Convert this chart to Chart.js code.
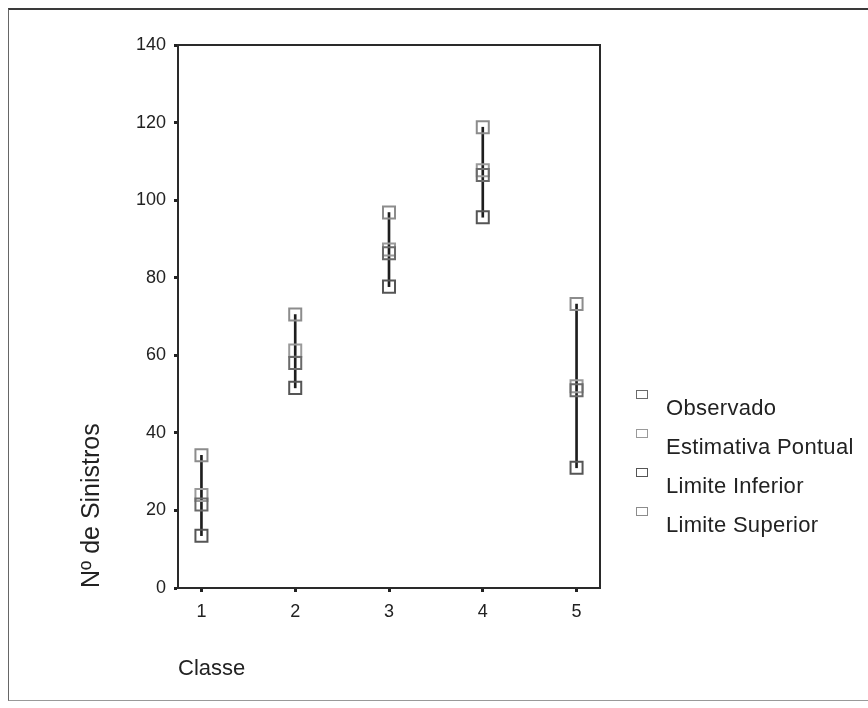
<!DOCTYPE html>
<html>
<head>
<meta charset="utf-8">
<script src="https://cdn.jsdelivr.net/npm/chart.js@4"></script>
<style>
  html, body { margin: 0; padding: 0; background: #fff; }
  #wrap { position: relative; width: 868px; height: 708px; overflow: hidden; }
  #frame {
    position: absolute; left: 8px; top: 8px; width: 900px; height: 690px;
    border-top: 2px solid #3a3a3a; border-left: 1.5px solid #666; border-bottom: 1.5px solid #999;
  }
  #chart { position: absolute; left: 0; top: 0; }
  #legend {
    position: absolute; left: 636px; top: 386px; margin: 0; padding: 0; list-style: none;
    font-family: "Liberation Sans", Arial, sans-serif; font-size: 22px; color: #222;
  }
  #legend li { height: 39px; white-space: nowrap; }
  #legend .box {
    display: inline-block; width: 10px; height: 7px; vertical-align: top; margin-top: 4px;
    border: 1.5px solid #777; background: #fff;
  }
  #legend .txt { display: inline-block; margin-left: 18px; margin-top: 9px; letter-spacing: 0.3px; }
</style>
</head>
<body>
<div id="wrap">
  <div id="frame"></div>
  <canvas id="chart" width="868" height="708"></canvas>
  <ul id="legend"></ul>
</div>
<script>
const classes = [1, 2, 3, 4, 5];
const observado = [21.5, 58, 86.3, 106.5, 51];
const estimativa = [24, 61.2, 87.3, 107.7, 52];
const limiteInferior = [13.5, 51.6, 77.7, 95.6, 31];
const limiteSuperior = [34.2, 70.5, 96.8, 118.8, 73.2];
const yTicks = [0, 20, 40, 60, 80, 100, 120, 140];

const font = '"Liberation Sans", Arial, sans-serif';

function points(values) {
  return classes.map((c, i) => ({ x: c, y: values[i] }));
}

function markerSet(label, values, color) {
  return {
    label: label,
    data: points(values),
    pointStyle: 'rect',
    pointRadius: 8.5,
    pointHoverRadius: 8.5,
    pointBorderWidth: 2,
    borderColor: color,
    backgroundColor: 'rgba(0,0,0,0)',
    showLine: false
  };
}

// legend as html list, built from the chart datasets
const htmlLegend = {
  id: 'htmlLegend',
  afterUpdate(chart) {
    const ul = document.getElementById('legend');
    ul.innerHTML = '';
    chart.data.datasets.forEach(ds => {
      if (ds.type === 'bar') return;
      const li = document.createElement('li');
      const box = document.createElement('span');
      box.className = 'box';
      box.style.borderColor = ds.borderColor;
      const txt = document.createElement('span');
      txt.className = 'txt';
      txt.textContent = ds.label;
      li.appendChild(box);
      li.appendChild(txt);
      ul.appendChild(li);
    });
  }
};

new Chart(document.getElementById('chart'), {
  type: 'scatter',
  data: {
    datasets: [
      markerSet('Observado', observado, '#6a6a6a'),
      markerSet('Estimativa Pontual', estimativa, '#9a9a9a'),
      markerSet('Limite Inferior', limiteInferior, '#555555'),
      markerSet('Limite Superior', limiteSuperior, '#8c8c8c'),
      {
        type: 'bar',
        label: 'intervalo',
        data: classes.map((c, i) => ({ x: c, y: [limiteInferior[i], limiteSuperior[i]] })),
        barThickness: 2,
        backgroundColor: '#1e1e1e',
        borderWidth: 0
      }
    ]
  },
  options: {
    responsive: false,
    animation: false,
    layout: { padding: { left: 71, right: 268, top: 45, bottom: 10 } },
    plugins: {
      legend: { display: false },
      tooltip: { enabled: false }
    },
    scales: {
      x: {
        type: 'linear',
        position: 'bottom',
        min: 0.75,
        max: 5.25,
        offset: false,
        ticks: { stepSize: 1, includeBounds: false, padding: 9, color: '#222', font: { family: font, size: 18 } },
        grid: { display: true, offset: false, drawOnChartArea: false, drawTicks: true, tickLength: 4, tickWidth: 3, tickColor: '#222' },
        border: { display: true, color: '#2a2a2a', width: 2 },
        title: { display: true, text: 'Classe', align: 'start', color: '#222', font: { family: font, size: 22 }, padding: { top: 0, bottom: 16 } },
        afterFit(scale) { scale.height = 110; }
      },
      y: {
        type: 'linear',
        position: 'left',
        min: 0,
        max: 140,
        afterBuildTicks(scale) { scale.ticks = yTicks.map(v => ({ value: v })); },
        ticks: { padding: 8, color: '#222', font: { family: font, size: 18 } },
        grid: { display: true, drawOnChartArea: false, drawTicks: true, tickLength: 4, tickWidth: 3, tickColor: '#222' },
        border: { display: true, color: '#2a2a2a', width: 2 },
        title: { display: true, text: 'Nº de Sinistros', align: 'start', color: '#222', font: { family: font, size: 25 }, padding: { top: 6, bottom: 0 } },
        afterFit(scale) { scale.width = 107; }
      },
      x2: {
        type: 'linear',
        position: 'top',
        ticks: { display: false },
        grid: { display: false, drawTicks: false },
        border: { display: true, color: '#2a2a2a', width: 2 }
      },
      y2: {
        type: 'linear',
        position: 'right',
        ticks: { display: false },
        grid: { display: false, drawTicks: false },
        border: { display: true, color: '#2a2a2a', width: 2 }
      }
    }
  },
  plugins: [htmlLegend]
});
</script>
</body>
</html>
